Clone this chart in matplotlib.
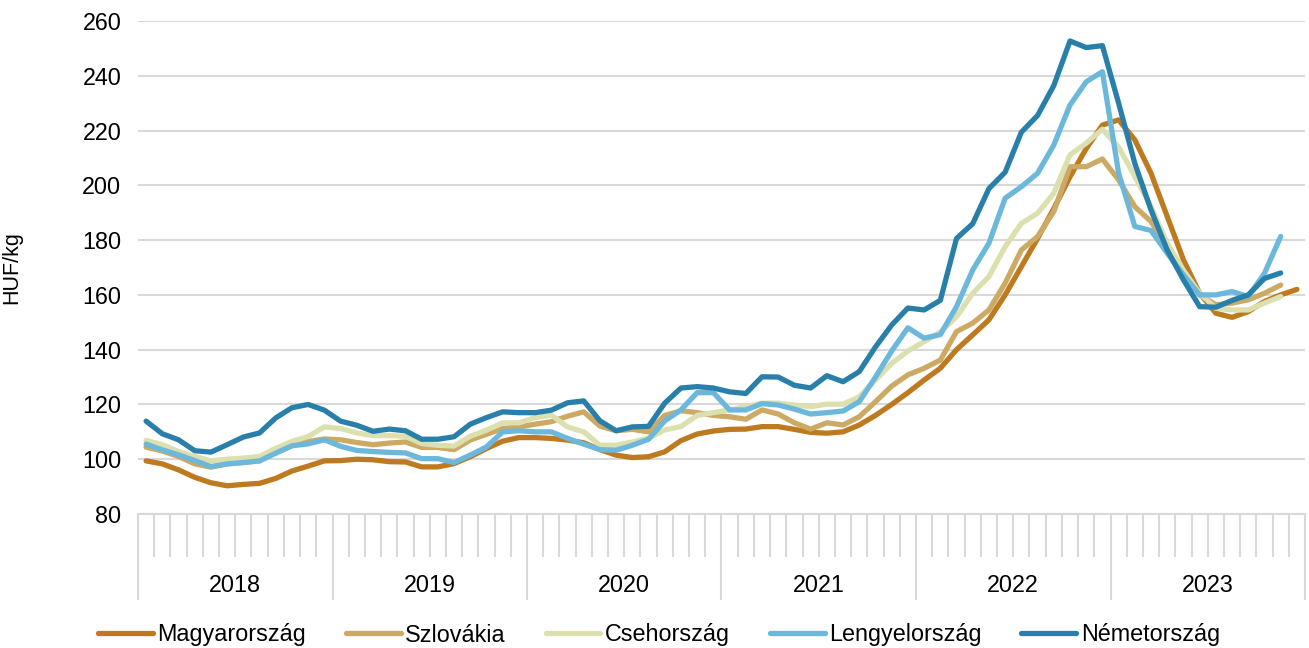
import numpy as np
import matplotlib
matplotlib.use("Agg")
from matplotlib import pyplot as plt

plt.rcParams['font.family'] = ['Liberation Sans', 'DejaVu Sans']

# havi adatok 2018 jan - 2023 dec (HUF/kg)
magyarorszag = [99.4, 98.3, 96.1, 93.4, 91.4, 90.3, 90.8, 91.2, 93.0, 95.7, 97.5, 99.4,
                99.5, 100.0, 99.8, 99.1, 99.0, 97.2, 97.2, 98.4, 100.9, 103.9, 106.6, 107.9,
                107.9, 107.6, 107.0, 106.0, 103.5, 101.5, 100.6, 100.9, 102.7, 106.8, 109.2, 110.3,
                110.9, 111.0, 111.9, 111.9, 110.9, 109.8, 109.5, 110.0, 112.5, 116.0, 120.0, 124.3,
                128.9, 133.2, 140.0, 145.4, 150.9, 160.0, 170.3, 180.6, 191.5, 203.1, 213.4, 222.0,
                223.9, 216.6, 204.4, 188.6, 172.8, 160.6, 153.3, 151.8, 153.9, 157.6, 160.0, 162.0]
szlovakia = [104.4, 103.0, 101.0, 98.3, 97.1, 98.3, 98.8, 99.4, 102.8, 105.3, 106.5, 107.4,
             107.1, 106.1, 105.3, 105.9, 106.3, 104.3, 104.3, 103.5, 107.0, 109.1, 111.2, 111.8,
             112.8, 113.7, 115.7, 117.3, 112.1, 110.4, 110.9, 110.0, 116.0, 117.7, 117.0, 116.0,
             115.5, 114.6, 118.0, 116.5, 113.3, 111.0, 113.3, 112.5, 115.5, 121.0, 126.7, 130.8,
             133.2, 136.2, 146.6, 149.7, 154.5, 164.3, 176.4, 181.3, 190.4, 206.8, 206.8, 209.6,
             202.0, 192.2, 186.8, 177.6, 167.9, 160.0, 156.4, 157.0, 158.2, 160.6, 163.6]
csehorszag = [106.9, 105.3, 102.8, 101.0, 99.4, 100.0, 100.4, 101.0, 104.0, 106.5, 108.3, 111.8,
              111.2, 109.6, 108.6, 108.6, 108.4, 105.7, 105.1, 104.8, 108.4, 110.6, 113.3, 113.3,
              115.2, 116.1, 111.8, 110.0, 105.1, 105.1, 106.3, 107.7, 110.7, 111.9, 116.0, 117.0,
              118.0, 119.2, 120.5, 120.5, 119.8, 119.2, 120.1, 120.1, 122.8, 128.9, 135.0, 139.5,
              142.9, 146.5, 152.0, 160.6, 166.7, 177.6, 186.1, 189.8, 197.1, 211.1, 215.4, 220.5,
              214.0, 203.2, 192.2, 178.9, 169.0, 160.6, 155.1, 154.5, 154.5, 157.0, 159.4]
lengyelorszag = [105.5, 103.4, 101.6, 99.5, 97.3, 98.3, 98.8, 99.4, 102.2, 104.9, 105.6, 107.1,
                 104.7, 103.2, 102.8, 102.5, 102.3, 100.2, 100.2, 98.8, 101.5, 104.5, 110.0, 110.4,
                 110.0, 110.0, 107.6, 105.5, 103.5, 103.3, 105.1, 107.3, 114.0, 118.0, 124.3, 124.3,
                 118.0, 118.0, 120.3, 119.8, 118.3, 116.5, 117.0, 117.6, 121.0, 130.0, 139.5, 148.0,
                 144.2, 145.5, 155.7, 169.1, 178.9, 195.3, 199.5, 204.4, 214.7, 229.3, 237.8, 241.5,
                 204.5, 185.0, 183.5, 175.2, 167.3, 160.0, 160.0, 161.2, 159.4, 167.9, 181.3]
nemetorszag = [113.9, 109.3, 107.1, 103.1, 102.6, 105.3, 108.1, 109.6, 115.1, 118.8, 120.0, 117.9,
               113.9, 112.4, 110.2, 111.0, 110.4, 107.3, 107.3, 108.2, 112.8, 115.2, 117.3, 117.0,
               117.0, 117.9, 120.6, 121.3, 114.0, 110.4, 111.8, 112.0, 120.5, 126.0, 126.5, 126.0,
               124.6, 124.0, 130.1, 130.0, 127.0, 126.0, 130.5, 128.3, 132.0, 141.0, 149.0, 155.2,
               154.5, 158.0, 180.6, 186.0, 198.8, 204.8, 219.4, 225.5, 236.4, 252.7, 250.3, 251.0,
               230.0, 208.0, 191.0, 176.4, 165.5, 155.7, 155.5, 158.0, 160.0, 166.0, 168.0]

evek = ['2018', '2019', '2020', '2021', '2022', '2023']
orszagok = ['Magyarország', 'Szlovákia', 'Csehország', 'Lengyelország', 'Németország']
szinek = ['#BE7A1F', '#CDAA64', '#DCE0AF', '#6CB8DC', '#2880AA']
adatok = [magyarorszag, szlovakia, csehorszag, lengyelorszag, nemetorszag]

FS = 16.8
GRID = '#D9D9D9'

fig = plt.figure(figsize=(13.09, 6.48), dpi=100)
ax = fig.add_axes([138 / 1309, 1 - 514 / 648, 1167 / 1309, 493 / 648])

for nev, szin, y in zip(orszagok, szinek, adatok):
    ax.plot(np.arange(len(y)), y, color=szin, lw=3.8, label=nev,
            solid_capstyle='round', solid_joinstyle='round')

n_honap = 12 * len(evek)
ax.set_xlim(-0.5, n_honap - 0.5)
ax.set_ylim(80, 260)
ax.set_yticks(np.arange(80, 261, 20))
ax.tick_params(axis='y', length=0, labelsize=FS, pad=12)
ax.yaxis.grid(True, color=GRID, lw=1.5)
ax.set_axisbelow(True)

for s in ['top', 'right', 'left']:
    ax.spines[s].set_visible(False)
ax.spines['bottom'].set_color(GRID)
ax.spines['bottom'].set_linewidth(1.5)
ax.set_xticks([])

# havi osztasok, evhatarok hosszabbak
trans = ax.get_xaxis_transform()
for h in range(n_honap + 1):
    also = -0.1745 if h % 12 == 0 else -0.087
    ax.plot([h - 0.5] * 2, [0, also], transform=trans, color=GRID,
            lw=1.5, clip_on=False, solid_capstyle='butt')
for k, ev in enumerate(evek):
    ax.text(12 * k + 5.5, -0.146, ev, transform=trans, ha='center', va='center',
            fontsize=FS)

ax.set_ylabel('HUF/kg', fontsize=15.5)
ax.yaxis.set_label_coords(-116 / 1167, 0.5)

fig.legend(loc='center', bbox_to_anchor=(659 / 1309, 1 - 635 / 648), ncol=5,
           frameon=False, fontsize=FS, handlelength=2.35, handletextpad=0.2,
           columnspacing=1.7, borderpad=0)

fig.savefig('out.png', dpi=100)
